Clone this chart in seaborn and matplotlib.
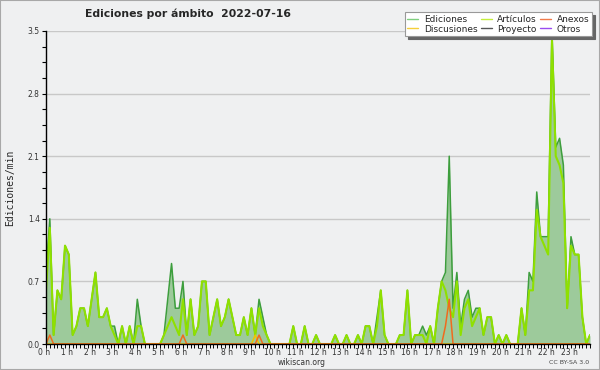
import numpy as np
import pandas as pd
import matplotlib
matplotlib.use("Agg")
import matplotlib.pyplot as plt
import matplotlib.transforms as mtransforms
from matplotlib.lines import Line2D
from matplotlib.patches import Rectangle
import seaborn as sns

# edits per minute, 10-minute bins, one hour per row
ediciones = [
    0.8, 1.4, 0.1, 0.6, 0.5, 1.1,
    1.0, 0.1, 0.2, 0.4, 0.4, 0.2,
    0.5, 0.8, 0.3, 0.3, 0.4, 0.2,
    0.2, 0.0, 0.2, 0.0, 0.2, 0.0,
    0.5, 0.2, 0.0, 0.0, 0.0, 0.0,
    0.0, 0.1, 0.5, 0.9, 0.4, 0.4,
    0.7, 0.1, 0.5, 0.1, 0.2, 0.7,
    0.7, 0.1, 0.3, 0.5, 0.2, 0.3,
    0.5, 0.3, 0.1, 0.1, 0.3, 0.1,
    0.4, 0.1, 0.5, 0.3, 0.1, 0.0,
    0.0, 0.0, 0.0, 0.0, 0.0, 0.2,
    0.0, 0.0, 0.2, 0.0, 0.0, 0.1,
    0.0, 0.0, 0.0, 0.0, 0.1, 0.0,
    0.0, 0.1, 0.0, 0.0, 0.1, 0.0,
    0.2, 0.2, 0.0, 0.3, 0.6, 0.1,
    0.0, 0.0, 0.0, 0.1, 0.1, 0.6,
    0.0, 0.1, 0.1, 0.2, 0.1, 0.2,
    0.0, 0.4, 0.7, 0.8, 2.1, 0.4,
    0.8, 0.2, 0.5, 0.6, 0.3, 0.4,
    0.4, 0.1, 0.3, 0.3, 0.0, 0.1,
    0.0, 0.1, 0.0, 0.0, 0.0, 0.4,
    0.1, 0.8, 0.7, 1.7, 1.2, 1.2,
    1.2, 3.5, 2.2, 2.3, 2.0, 0.4,
    1.2, 1.0, 1.0, 0.3, 0.0, 0.1,
]
articulos = [
    0.6, 1.3, 0.1, 0.6, 0.5, 1.1,
    1.0, 0.1, 0.2, 0.4, 0.4, 0.2,
    0.5, 0.8, 0.3, 0.3, 0.4, 0.2,
    0.1, 0.0, 0.2, 0.0, 0.2, 0.0,
    0.2, 0.2, 0.0, 0.0, 0.0, 0.0,
    0.0, 0.1, 0.2, 0.3, 0.2, 0.1,
    0.5, 0.1, 0.5, 0.1, 0.2, 0.7,
    0.7, 0.1, 0.3, 0.5, 0.2, 0.3,
    0.5, 0.3, 0.1, 0.1, 0.3, 0.1,
    0.4, 0.1, 0.4, 0.2, 0.1, 0.0,
    0.0, 0.0, 0.0, 0.0, 0.0, 0.2,
    0.0, 0.0, 0.2, 0.0, 0.0, 0.1,
    0.0, 0.0, 0.0, 0.0, 0.1, 0.0,
    0.0, 0.1, 0.0, 0.0, 0.1, 0.0,
    0.2, 0.2, 0.0, 0.2, 0.6, 0.1,
    0.0, 0.0, 0.0, 0.1, 0.1, 0.6,
    0.0, 0.1, 0.1, 0.1, 0.0, 0.2,
    0.0, 0.4, 0.7, 0.6, 0.4, 0.3,
    0.7, 0.1, 0.4, 0.5, 0.2, 0.3,
    0.4, 0.1, 0.3, 0.3, 0.0, 0.1,
    0.0, 0.1, 0.0, 0.0, 0.0, 0.4,
    0.1, 0.6, 0.6, 1.5, 1.2, 1.1,
    1.0, 3.4, 2.1, 2.0, 1.8, 0.4,
    1.1, 1.0, 1.0, 0.3, 0.0, 0.1,
]
# sparse series: bin index -> value, all other bins are zero
anexos_bins = {1: 0.1, 36: 0.1, 56: 0.1, 105: 0.2, 106: 0.5}
discusiones_bins = {55: 0.1}
proyecto_bins = {}
otros_bins = {}

hour_labels = [f"{h} h" for h in range(24)]
legend_names = ["Ediciones", "Discusiones", "Artículos", "Proyecto", "Anexos", "Otros"]
legend_colors = ["#7fcf7f", "#f5cf3a", "#c4ee3c", "#555555", "#f07a4a", "#9a4cf0"]

n = len(ediciones)


def sparse(d):
    s = np.zeros(n)
    for k, v in d.items():
        s[k] = v
    return s


df = pd.DataFrame({
    "bin": np.arange(n),
    "Ediciones": ediciones,
    "Artículos": articulos,
    "Anexos": sparse(anexos_bins),
    "Discusiones": sparse(discusiones_bins),
    "Proyecto": sparse(proyecto_bins),
    "Otros": sparse(otros_bins),
})

bg = "#eff0f1"
sns.set_theme(style="white", rc={"axes.facecolor": bg, "figure.facecolor": bg})
plt.rcParams["font.family"] = ["DejaVu Sans"]

fig = plt.figure(figsize=(6, 3.7), dpi=100)
ax = fig.add_axes([46 / 600, 26 / 370, 544 / 600, 313 / 370])

ax.fill_between(df["bin"], df["Ediciones"], color="#9dca9b", lw=0, zorder=1.5)
sns.lineplot(data=df, x="bin", y="Ediciones", color="#3d9e3d", lw=1.1, ax=ax)
sns.lineplot(data=df, x="bin", y="Proyecto", color="#555555", lw=1, ax=ax)
sns.lineplot(data=df, x="bin", y="Otros", color="#8a3ff0", lw=1, ax=ax)
sns.lineplot(data=df, x="bin", y="Artículos", color="#8fe000", lw=1.5, ax=ax)
sns.lineplot(data=df, x="bin", y="Discusiones", color="#f0c400", lw=1.1, ax=ax)
sns.lineplot(data=df, x="bin", y="Anexos", color="#f06a1e", lw=1.1, ax=ax)
ax.set(xlabel="", ylabel="")

ax.set_xlim(0, n - 1)
ax.set_ylim(0, 3.5)

for s in ["top", "right"]:
    ax.spines[s].set_visible(False)
for s in ["left", "bottom"]:
    ax.spines[s].set_color("black")
    ax.spines[s].set_linewidth(1)

# y axis
ax.set_yticks([0, 0.7, 1.4, 2.1, 2.8, 3.5])
ax.set_yticklabels(["0.0", "0.7", "1.4", "2.1", "2.8", "3.5"])
ax.yaxis.set_minor_locator(matplotlib.ticker.MultipleLocator(0.175))
ax.tick_params(axis="y", which="both", left=True, length=3, width=0.8, color="black",
               direction="out", labelsize=5.5, labelcolor="#333333", pad=1.5)
ax.yaxis.grid(True, color="#c8c8c8", lw=1)
ax.set_axisbelow(True)

# x axis: a small tick per bin, a label per hour (6 bins)
ax.set_xticks(np.arange(n), minor=True)
ax.set_xticks(np.arange(24) * 6)
ax.set_xticklabels(hour_labels)
ax.tick_params(axis="x", which="minor", bottom=True, length=3, width=0.7, color="black",
               direction="out")
ax.tick_params(axis="x", which="major", bottom=True, length=3, width=0.7, color="black",
               labelsize=5.5, labelcolor="#333333", pad=0)
shift = mtransforms.ScaledTranslation(-2 / 100, 0, fig.dpi_scale_trans)
for lab in ax.get_xticklabels():
    lab.set_transform(lab.get_transform() + shift)

fig.text(10 / 600, 1 - 187.5 / 370, "Ediciones/min", rotation=90, ha="center", va="center",
         fontsize=7, family="DejaVu Sans Mono")
fig.text(85 / 600, 1 - 14 / 370, "Ediciones por ámbito  2022-07-16", ha="left", va="center",
         fontsize=7.8, fontweight="bold")
fig.text(302 / 600, 1 - 362.5 / 370, "wikiscan.org", ha="center", va="center",
         fontsize=5.5, color="#333333")
fig.text(589 / 600, 1 - 362.5 / 370, "CC BY-SA 3.0", ha="right", va="center",
         fontsize=4.5, color="#444444")

handles = [Line2D([], [], color=c, lw=1) for c in legend_colors]
leg = fig.legend(handles, legend_names, ncol=3, loc="upper right",
                 bbox_to_anchor=(592 / 600, 1 - 12 / 370), frameon=True, fancybox=False,
                 shadow={"color": "#666666", "alpha": 1}, fontsize=6.5, handlelength=1.2,
                 handletextpad=0.6, columnspacing=0.4, borderpad=0.3, labelspacing=0.1,
                 borderaxespad=0, framealpha=1)
leg.get_frame().set_edgecolor("#999999")
leg.get_frame().set_facecolor("white")
leg.get_frame().set_linewidth(0.8)

fig.patches.append(Rectangle((0, 0), 1, 1, transform=fig.transFigure, fill=False,
                             edgecolor="#a8a8a8", lw=1.5))

fig.savefig("out.png", dpi=100)
